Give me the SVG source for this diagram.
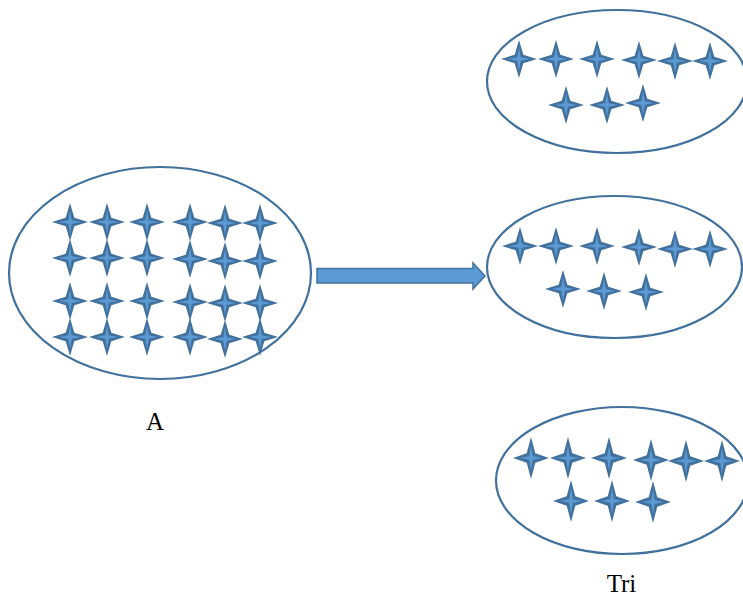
<svg xmlns="http://www.w3.org/2000/svg" xmlns:xlink="http://www.w3.org/1999/xlink" width="743" height="597" viewBox="0 0 743 597">
<style>
.set{fill:none;stroke:#41719C;stroke-width:2.2}
.lbl{font-family:"Liberation Serif","Times New Roman",serif;font-size:25px;fill:#000;text-anchor:middle}
.arrow{fill:#5B9BD5;stroke:#41719C;stroke-width:1.5;stroke-linejoin:miter}
</style>
<defs>
<g id="star">
<path d="M0,-19 L4.3,-4.3 L18,0 L4.3,4.3 L0,19 L-4.3,4.3 L-18,0 L-4.3,-4.3 Z" fill="#41719C"/>
<path d="M0,-12 L1.7,-1.7 L11,0 L1.7,1.7 L0,12 L-1.7,1.7 L-11,0 L-1.7,-1.7 Z" fill="#5B9BD5"/>
</g>
</defs>
<rect width="743" height="597" fill="#fff"/>
<g id="setA">
<ellipse class="set" cx="160" cy="273" rx="151" ry="106"/>
<use xlink:href="#star" href="#star" x="70" y="222"/>
<use xlink:href="#star" href="#star" x="107" y="222"/>
<use xlink:href="#star" href="#star" x="147" y="222"/>
<use xlink:href="#star" href="#star" x="190" y="222"/>
<use xlink:href="#star" href="#star" x="225" y="223"/>
<use xlink:href="#star" href="#star" x="260" y="223"/>
<use xlink:href="#star" href="#star" x="70" y="258"/>
<use xlink:href="#star" href="#star" x="107" y="258"/>
<use xlink:href="#star" href="#star" x="147" y="258"/>
<use xlink:href="#star" href="#star" x="190" y="259"/>
<use xlink:href="#star" href="#star" x="225" y="261"/>
<use xlink:href="#star" href="#star" x="260" y="261"/>
<use xlink:href="#star" href="#star" x="70" y="301"/>
<use xlink:href="#star" href="#star" x="107" y="301"/>
<use xlink:href="#star" href="#star" x="147" y="301"/>
<use xlink:href="#star" href="#star" x="190" y="302"/>
<use xlink:href="#star" href="#star" x="225" y="303"/>
<use xlink:href="#star" href="#star" x="260" y="303"/>
<use xlink:href="#star" href="#star" x="70" y="337"/>
<use xlink:href="#star" href="#star" x="107" y="337"/>
<use xlink:href="#star" href="#star" x="147" y="337"/>
<use xlink:href="#star" href="#star" x="190" y="337"/>
<use xlink:href="#star" href="#star" x="225" y="339"/>
<use xlink:href="#star" href="#star" x="260" y="337"/>
</g>
<g id="label-A"><text class="lbl" x="155" y="430">A</text></g>
<g id="setTop">
<ellipse class="set" cx="617" cy="81.5" rx="130" ry="71.5"/>
<use xlink:href="#star" href="#star" x="519" y="59"/>
<use xlink:href="#star" href="#star" x="556" y="59"/>
<use xlink:href="#star" href="#star" x="597" y="59"/>
<use xlink:href="#star" href="#star" x="639" y="60"/>
<use xlink:href="#star" href="#star" x="675" y="61"/>
<use xlink:href="#star" href="#star" x="710" y="61"/>
<use xlink:href="#star" href="#star" x="566" y="105"/>
<use xlink:href="#star" href="#star" x="607" y="105"/>
<use xlink:href="#star" href="#star" x="643" y="103"/>
</g>
<g id="setMid">
<ellipse class="set" cx="614.5" cy="267" rx="127.5" ry="71"/>
<use xlink:href="#star" href="#star" x="520" y="246"/>
<use xlink:href="#star" href="#star" x="556" y="246"/>
<use xlink:href="#star" href="#star" x="597" y="246"/>
<use xlink:href="#star" href="#star" x="639" y="247"/>
<use xlink:href="#star" href="#star" x="675" y="249"/>
<use xlink:href="#star" href="#star" x="710" y="249"/>
<use xlink:href="#star" href="#star" x="563" y="289"/>
<use xlink:href="#star" href="#star" x="604" y="291"/>
<use xlink:href="#star" href="#star" x="646" y="292"/>
</g>
<g id="setBottom">
<ellipse class="set" cx="622" cy="480.5" rx="126" ry="73.5"/>
<use xlink:href="#star" href="#star" transform="translate(531,458) scale(1,1.1)"/>
<use xlink:href="#star" href="#star" transform="translate(568,458) scale(1,1.1)"/>
<use xlink:href="#star" href="#star" transform="translate(609,458) scale(1,1.1)"/>
<use xlink:href="#star" href="#star" transform="translate(651,460) scale(1,1.1)"/>
<use xlink:href="#star" href="#star" transform="translate(686,461) scale(1,1.1)"/>
<use xlink:href="#star" href="#star" transform="translate(722,461) scale(1,1.1)"/>
<use xlink:href="#star" href="#star" transform="translate(571,501) scale(1,1.1)"/>
<use xlink:href="#star" href="#star" transform="translate(612,501) scale(1,1.1)"/>
<use xlink:href="#star" href="#star" transform="translate(653,502) scale(1,1.1)"/>
</g>
<g id="label-Tri"><text class="lbl" x="621.5" y="592">Tri</text></g>
<g id="connectors">
<path class="arrow" d="M317,268.5 L473,268.5 L473,263 L485,276 L473,289 L473,283 L317,283 Z"/>
</g>
</svg>
